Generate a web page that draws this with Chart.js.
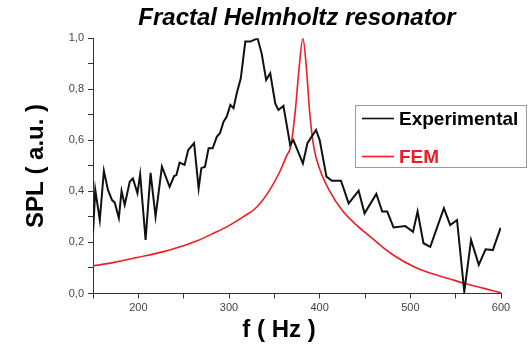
<!DOCTYPE html>
<html>
<head>
<meta charset="utf-8">
<title>Fractal Helmholtz resonator</title>
<script src="https://cdn.jsdelivr.net/npm/chart.js@4.4.0/dist/chart.umd.min.js"></script>
<style>
    html, body { margin: 0; padding: 0; background: #ffffff; }
    #wrap { width: 531px; height: 351px; }
</style>
</head>
<body>
<div id="wrap"><canvas id="splChart" width="531" height="351"></canvas></div>
<script>
// Measured SPL (black) - frequency in Hz, normalised amplitude
const expFreq = [150, 152.5, 157.5, 162, 166.5, 171, 174, 178.5, 181.5, 185, 190.5, 194, 199, 202, 208,
    213.5, 219, 226, 234.5, 239.5, 242, 245.5, 251, 255, 261.5, 266.5, 269.5, 273.5, 277.5, 282, 286.5,
    290, 294, 297.5, 301.5, 305, 308.5, 313, 318, 323.5, 331.5, 336, 341, 345.5, 351, 354.5, 360, 367.5,
    371, 381.5, 386.5, 396, 400, 407.5, 413.5, 423.5, 432, 443, 449.5, 462.5, 469, 474.5, 481.5, 494.5,
    503, 508, 514.5, 522, 537, 544, 551.5, 559.5, 567, 575.5, 583, 591, 599.5];
const expSpl = [0.237, 0.406, 0.288, 0.481, 0.406, 0.366, 0.356, 0.296, 0.402, 0.347, 0.438, 0.451, 0.393, 0.467, 0.210,
    0.473, 0.301, 0.497, 0.418, 0.460, 0.464, 0.513, 0.504, 0.562, 0.589, 0.412, 0.491, 0.497, 0.569, 0.569, 0.614,
    0.628, 0.673, 0.693, 0.739, 0.726, 0.784, 0.843, 0.987, 0.987, 1.0, 0.941, 0.837, 0.863, 0.745, 0.719, 0.735, 0.582,
    0.601, 0.510, 0.589, 0.641, 0.601, 0.458, 0.442, 0.442, 0.353, 0.403, 0.314, 0.390, 0.321, 0.321, 0.259, 0.264,
    0.242, 0.321, 0.197, 0.183, 0.334, 0.268, 0.288, 0.007, 0.210, 0.112, 0.173, 0.170, 0.257];

// FEM simulation (red)
const femFreq = [150, 172, 200, 228, 246, 265, 283, 299, 316, 331, 345, 356, 364, 368, 373, 377.5, 381.5,
    385, 389, 393.5, 400, 412, 425, 440, 455, 470, 485, 504, 520, 541, 563, 580, 600];
const femSpl = [0.108, 0.121, 0.142, 0.164, 0.183, 0.207, 0.236, 0.264, 0.301, 0.340, 0.406, 0.477, 0.543, 0.575, 0.712, 0.89, 1.0,
    0.90, 0.71, 0.575, 0.488, 0.395, 0.325, 0.27, 0.225, 0.18, 0.142, 0.105, 0.082, 0.060, 0.036, 0.021, 0.003];

const xTicks = { min: 150, max: 600, step: 50, labelEvery: 100 };
const yTicks = { min: 0, max: 1, step: 0.1 };

const seriesLabels = ['Experimental', 'FEM'];
const seriesColors = ['#111111', '#ee1c25'];

const FONT = '"Liberation Sans", Arial, Helvetica, sans-serif';

const toPoints = (xs, ys) => xs.map((x, i) => ({ x: x, y: ys[i] }));

// Boxed legend inside the plot, plus the x axis title
const boxLegend = {
    id: 'boxLegend',
    afterDraw(chart) {
        const c = chart.ctx;
        c.save();

        // x axis title
        c.font = 'bold 24px ' + FONT;
        c.fillStyle = '#000';
        c.textAlign = 'center';
        c.textBaseline = 'middle';
        c.fillText('f ( Hz )', 279, 330);

        // legend frame
        c.fillStyle = '#ffffff';
        c.fillRect(355.5, 105.5, 171, 62);
        c.strokeStyle = '#9a9a9a';
        c.lineWidth = 1;
        c.strokeRect(355.5, 105.5, 171, 62);

        const rows = [118.5, 156.5];
        chart.data.datasets.forEach((ds, i) => {
            const y = rows[i];
            c.strokeStyle = ds.borderColor;
            c.lineWidth = 1.6;
            c.beginPath();
            c.moveTo(362, y);
            c.lineTo(394, y);
            c.stroke();

            c.font = 'bold 19px ' + FONT;
            c.fillStyle = i === 0 ? '#000' : ds.borderColor;
            c.textAlign = 'left';
            c.fillText(ds.label, 399, y + 1);
        });
        c.restore();
    }
};

const ctx = document.getElementById('splChart').getContext('2d');

const chart = new Chart(ctx, {
    type: 'line',
    data: {
        datasets: [
            {
                label: seriesLabels[0],
                data: toPoints(expFreq, expSpl),
                borderColor: seriesColors[0],
                borderWidth: 2,
                pointRadius: 0,
                tension: 0
            },
            {
                label: seriesLabels[1],
                data: toPoints(femFreq, femSpl),
                borderColor: seriesColors[1],
                borderWidth: 1.6,
                pointRadius: 0,
                cubicInterpolationMode: 'monotone'
            }
        ]
    },
    options: {
        responsive: false,
        animation: false,
        events: [],
        layout: { padding: { left: 0, right: 30, top: 0, bottom: 0 } },
        plugins: {
            legend: { display: false },
            tooltip: { enabled: false },
            title: {
                display: true,
                text: 'Fractal Helmholtz resonator',
                fullSize: false,
                color: '#000',
                font: { family: FONT, size: 24, weight: 'bold', style: 'italic' },
                padding: { top: 4, bottom: 5.5 }
            }
        },
        scales: {
            x: {
                type: 'linear',
                min: xTicks.min,
                max: xTicks.max,
                afterFit: (scale) => { scale.height = 57.5; },
                border: { display: true, color: '#333', width: 1 },
                grid: { drawOnChartArea: false, drawTicks: true, tickLength: 5, color: '#333' },
                ticks: {
                    stepSize: xTicks.step,
                    color: '#444',
                    padding: 3,
                    maxRotation: 0,
                    font: { family: FONT, size: 11 },
                    callback: (v) => (v % xTicks.labelEvery === 0 ? String(v) : '')
                }
            },
            y: {
                min: yTicks.min,
                max: yTicks.max,
                afterFit: (scale) => { scale.width = 93; },
                border: { display: true, color: '#333', width: 1 },
                grid: { drawOnChartArea: false, drawTicks: true, tickLength: 5, color: '#333' },
                ticks: {
                    stepSize: yTicks.step,
                    color: '#444',
                    padding: 4,
                    font: { family: FONT, size: 11 },
                    callback: (v) => (Math.round(v * 10) % 2 === 0 ? v.toFixed(1).replace('.', ',') : '')
                },
                title: {
                    display: true,
                    text: 'SPL ( a.u. )',
                    color: '#000',
                    font: { family: FONT, size: 24, weight: 'bold' },
                    padding: { top: 21.5, bottom: 0 }
                }
            }
        }
    },
    plugins: [boxLegend]
});
</script>
</body>
</html>
